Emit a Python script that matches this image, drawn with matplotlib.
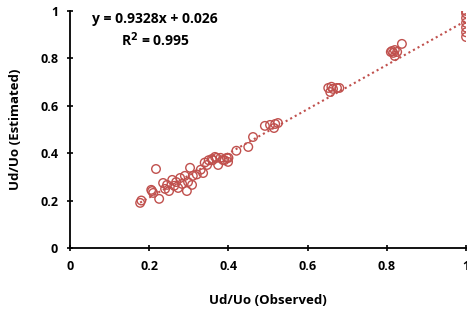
import matplotlib
matplotlib.use("Agg")
import matplotlib.pyplot as plt
import numpy as np

observed = [0.177, 0.18, 0.205, 0.21, 0.207, 0.217, 0.225, 0.235, 0.24, 0.245,
            0.25, 0.258, 0.263, 0.268, 0.273, 0.278, 0.283, 0.29, 0.295, 0.298,
            0.303, 0.308, 0.31, 0.32, 0.33, 0.336, 0.34, 0.346, 0.35, 0.358,
            0.36, 0.366, 0.37, 0.374, 0.38, 0.386, 0.39, 0.396, 0.399, 0.40,
            0.42, 0.45, 0.462, 0.492, 0.505, 0.515, 0.518, 0.525,
            0.652, 0.657, 0.66, 0.664, 0.674, 0.68,
            0.81, 0.813, 0.816, 0.82, 0.82, 0.826, 0.838,
            1.0, 1.0, 1.0, 1.0, 1.0, 1.0, 1.0]
estimated = [0.19, 0.2, 0.245, 0.232, 0.24, 0.333, 0.207, 0.274, 0.249, 0.266,
             0.24, 0.287, 0.262, 0.278, 0.253, 0.295, 0.27, 0.304, 0.24, 0.278,
             0.338, 0.266, 0.304, 0.31, 0.33, 0.316, 0.36, 0.35, 0.37, 0.375,
             0.37, 0.384, 0.38, 0.35, 0.38, 0.371, 0.37, 0.38, 0.363, 0.38,
             0.41, 0.426, 0.468, 0.515, 0.519, 0.506, 0.523, 0.527,
             0.675, 0.658, 0.68, 0.671, 0.675, 0.675,
             0.827, 0.831, 0.823, 0.835, 0.81, 0.827, 0.861,
             1.0, 0.99, 0.97, 0.95, 0.93, 0.91, 0.89]
slope, intercept = 0.9328, 0.026

red = "#C0504D"
plt.rcParams['font.family'] = ['Open Sans', 'DejaVu Sans']
plt.rcParams['font.weight'] = 'bold'

fig = plt.figure(figsize=(4.67, 3.13), dpi=100)
ax = fig.add_axes([0.15, 0.208, 0.848, 0.757])

ax.scatter(observed, estimated, s=38, facecolors='none', edgecolors=red,
           linewidths=1.0, zorder=3)
xs = np.array([min(observed), max(observed)])
ax.plot(xs, slope * xs + intercept, color=red, linestyle=(0, (1, 1.5)),
        linewidth=1.5, zorder=2)

ax.set_xlim(0, 1)
ax.set_ylim(0, 1)
ax.set_xticks([0, 0.2, 0.4, 0.6, 0.8, 1])
ax.set_yticks([0, 0.2, 0.4, 0.6, 0.8, 1])
ax.set_xticklabels(['0', '0.2', '0.4', '0.6', '0.8', '1'])
ax.set_yticklabels(['0', '0.2', '0.4', '0.6', '0.8', '1'])
for s in ['top', 'right']:
    ax.spines[s].set_visible(False)
for s in ['left', 'bottom']:
    ax.spines[s].set_linewidth(1.3)
ax.tick_params(direction='inout', length=5, width=1.2, labelsize=9, pad=6)
for lab in ax.get_xticklabels() + ax.get_yticklabels():
    lab.set_fontweight('bold')

ax.set_xlabel('Ud/Uo (Observed)', fontsize=9.5, fontweight='bold', labelpad=15)
ax.set_ylabel('Ud/Uo (Estimated)', fontsize=9.5, fontweight='bold', labelpad=13)

ax.text(0.215, 0.965, 'y = 0.9328x + 0.026', transform=ax.transAxes,
        ha='center', va='center', fontsize=10, fontweight='bold')
ax.text(0.215, 0.88, r'R$^\mathbf{2}$ = 0.995', transform=ax.transAxes,
        ha='center', va='center', fontsize=10, fontweight='bold')

fig.savefig('out.png', dpi=100)
